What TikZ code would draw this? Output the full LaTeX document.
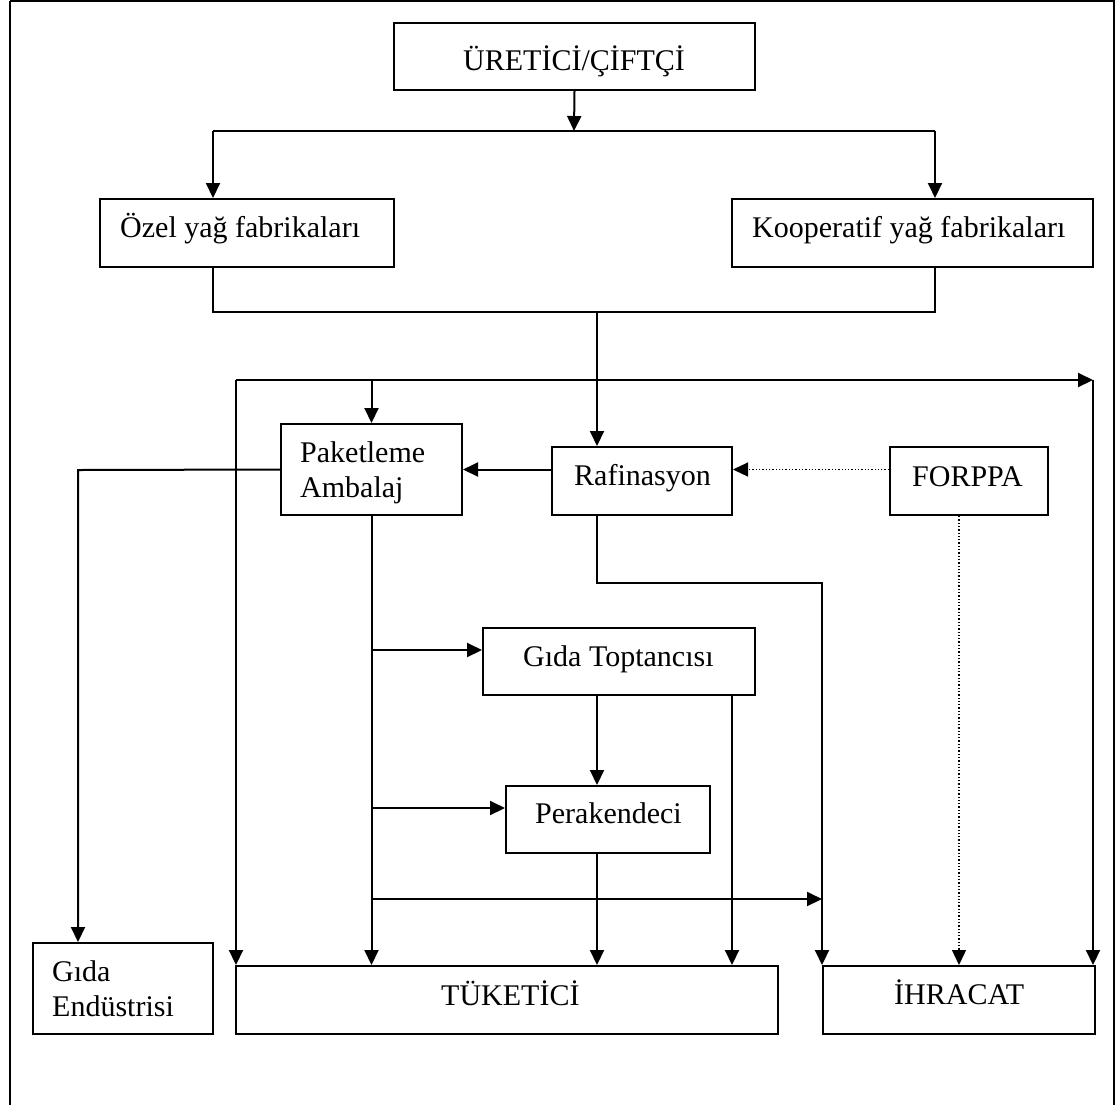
\documentclass[tikz,border=0pt]{standalone}
\usepackage{fontspec}
\setmainfont{Liberation Serif}
\usetikzlibrary{arrows.meta,calc}
\tikzset{
  box/.style={draw, line width=2pt, rectangle, inner sep=0pt},
  lbl/.style={anchor=base west, inner sep=0pt, font=\fontsize{30}{35}\selectfont, align=left},
  conn/.style={line width=2pt},
  arr/.style={conn, -{Triangle[length=15pt,width=14pt]}},
  dotarr/.style={line width=1.3pt, dotted, -{Triangle[length=15pt,width=14pt]}}
}
\newcommand\mybox[5]{%
  \node[box, minimum width={#4-#2}, minimum height={#5-#3}] (#1) at ({(#2+#4)/2},{(#3+#5)/2}) {};}
\begin{document}
\begin{tikzpicture}[x=1pt,y=-1pt]
\useasboundingbox (0,0) rectangle (1118,1104);
\clip (0,0) rectangle (1118,1104);
\draw[line width=1.6pt] (10,1) -- (1114,1) -- (1114,1120) (10,1) -- (10,1120);

% boxes
\mybox{ur}{394}{23}{755}{90}
\mybox{ozel}{100}{199}{394}{267}
\mybox{koop}{732}{199}{1093}{267}
\mybox{pak}{281}{424}{462}{515}
\mybox{raf}{552}{447}{732}{515}
\mybox{forppa}{890}{447}{1048}{515}
\mybox{top}{483}{628}{755}{695}
\mybox{per}{506}{786}{710}{853}
\mybox{gida}{33}{943}{213}{1034}
\mybox{tuk}{236}{966}{778}{1034}
\mybox{ihr}{823}{966}{1095}{1034}

% texts
\node[lbl] (ur-t) at (463,70) {ÜRETİCİ/ÇİFTÇİ};
\node[lbl] (ozel-t) at (120,237) {Özel yağ fabrikaları};
\node[lbl] (koop-t) at (752,237) {Kooperatif yağ fabrikaları};
\node[lbl] (pak-t1) at (300,462) {Paketleme};
\node[lbl] (pak-t2) at (300,497) {Ambalaj};
\node[lbl] (raf-t) at (574,485) {Rafinasyon};
\node[lbl] (forppa-t) at (912,486) {FORPPA};
\node[lbl] (top-t) at (523,666) {Gıda Toptancısı};
\node[lbl] (per-t) at (535,823) {Perakendeci};
\node[lbl] (gida-t1) at (52,981) {Gıda};
\node[lbl] (gida-t2) at (52,1016) {Endüstrisi};
\node[lbl] (tuk-t) at (441,1005) {TÜKETİCİ};
\node[lbl] (ihr-t) at (894,1004) {İHRACAT};

% junction coordinates
\coordinate (j0) at (574,131);
\coordinate (jl) at (213,131);
\coordinate (jr) at (935,131);
\coordinate (ml) at (213,312);
\coordinate (mr) at (935,312);
\coordinate (mm) at (597,312);
\coordinate (tl) at (236,380);
\coordinate (tr) at (1093,380);
\coordinate (gd) at (78,470);
\coordinate (b1) at (371,650);
\coordinate (b2) at (371,808);
\coordinate (b3) at (371,899);
\coordinate (rb) at (597,583);
\coordinate (rc) at (822,583);
\coordinate (tv) at (732,695);

% connectors
\draw[arr] (ur.south) -- (j0);
\draw[conn] (jl) -- (jr);
\draw[arr] (jl) -- (jl |- ozel.north);
\draw[arr] (jr) -- (jr |- koop.north);
\draw[conn] (ozel.south -| ml) -- (ml) -- (mr) -- (koop.south -| mr);
\draw[arr] (mm) -- (mm |- raf.north);
\draw[arr] (tl) -- (tr);
\draw[arr] (tl) -- (tl |- tuk.north);
\draw[arr] (tr) -- (tr |- ihr.north);
\draw[arr] (pak.north |- tl) -- (pak.north);
\draw[arr] (raf.west |- pak.east) -- (pak.east);
\draw[dotarr] (forppa.west |- pak.east) -- (raf.east |- pak.east);
\draw[arr] (pak.west) -- (gd) -- (gd |- gida.north);
\draw[arr] (pak.south) -- (pak.south |- tuk.north);
\draw[arr] (b1) -- (b1 -| top.west);
\draw[arr] (b2) -- (b2 -| per.west);
\draw[arr] (b3) -- (b3 -| rc);
\draw[arr] (raf.south -| rb) -- (rb) -- (rc) -- (rc |- ihr.north);
\draw[arr] (top.south -| mm) -- (per.north -| mm);
\draw[arr] (per.south -| mm) -- (tuk.north -| mm);
\draw[arr] (tv) -- (tv |- tuk.north);
\draw[dotarr] (forppa.south -| ihr.north) -- (ihr.north);
\end{tikzpicture}
\end{document}
